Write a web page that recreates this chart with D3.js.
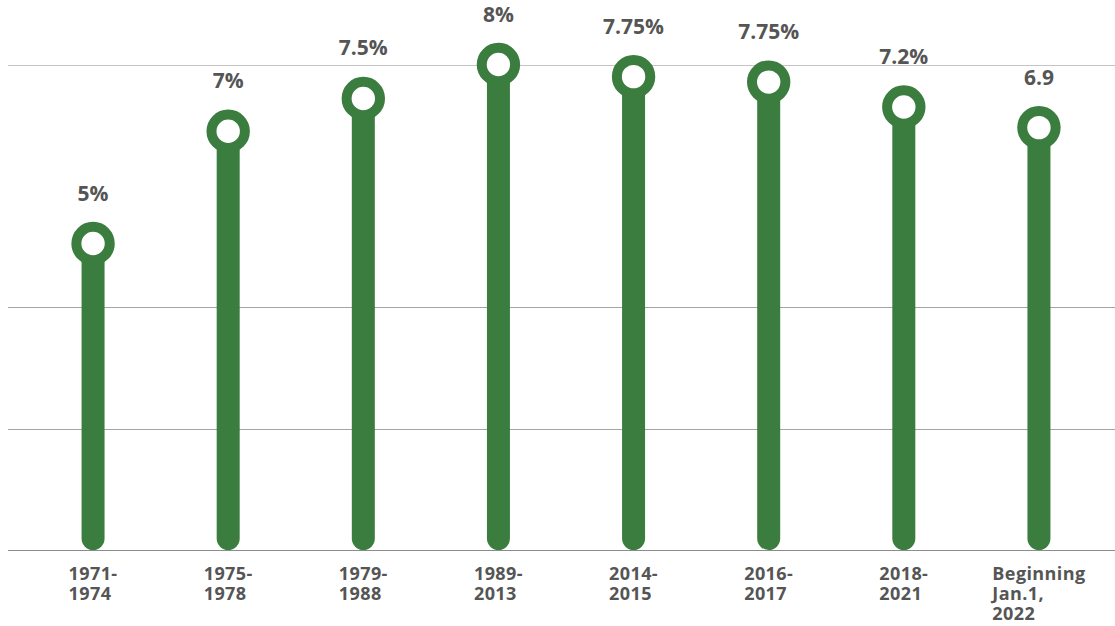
<!DOCTYPE html>
<html>
<head>
<meta charset="utf-8">
<script src="https://cdn.jsdelivr.net/npm/d3@7"></script>
<style>
  html, body { margin: 0; padding: 0; background: #fff; }
  svg { display: block; }
  text { font-family: "Open Sans", sans-serif; font-weight: 700; fill: #555; }
</style>
</head>
<body>
<svg id="chart" width="1115" height="626"></svg>
<script>
// Data
const categories = ["1971-\n1974", "1975-\n1978", "1979-\n1988", "1989-\n2013", "2014-\n2015", "2016-\n2017", "2018-\n2021", "Beginning\nJan.1,\n2022"];
const values = [5.05, 6.9, 7.44, 8, 7.8, 7.71, 7.3, 6.96];
const valueLabels = ["5%", "7%", "7.5%", "8%", "7.75%", "7.75%", "7.2%", "6.9"];
const gridTicks = [0, 2, 4, 8];

const W = 1115, H = 626;
const svg = d3.select("#chart");

const x = d3.scalePoint().domain(categories).range([25.5, 1106.5]).padding(0.5);
const y = d3.scaleLinear().domain([0, 8]).range([550, 64.5]);

const green = "#3a7d3f";

// gridlines
svg.append("g").selectAll("line").data(gridTicks).join("line")
  .attr("x1", 8).attr("x2", W)
  .attr("y1", d => Math.round(y(d)) + 0.5).attr("y2", d => Math.round(y(d)) + 0.5)
  .attr("stroke", d => d === 0 ? "#8c8c8c" : (d === 8 ? "#c4c4c4" : "#a4a4a4"))
  .attr("stroke-width", 1.2);

const stemW = 23;
const idx = d3.range(categories.length);

// stems
svg.append("g").selectAll("line").data(idx).join("line")
  .attr("x1", i => x(categories[i])).attr("x2", i => x(categories[i]))
  .attr("y1", i => y(values[i]))
  .attr("y2", y(0) - stemW / 2)
  .attr("stroke", green)
  .attr("stroke-width", stemW)
  .attr("stroke-linecap", "round");

// rings
svg.append("g").selectAll("circle").data(idx).join("circle")
  .attr("cx", i => x(categories[i]))
  .attr("cy", i => y(values[i]))
  .attr("r", 16.7)
  .attr("fill", "#fff")
  .attr("stroke", green)
  .attr("stroke-width", 10);

// value labels
svg.append("g").selectAll("text").data(idx).join("text")
  .attr("x", i => x(categories[i]))
  .attr("y", i => y(values[i]) - 43)
  .attr("text-anchor", "middle")
  .style("font-size", "21px")
  .text(i => valueLabels[i]);

// category labels (left aligned block centred under stem)
const xl = svg.append("g");
categories.forEach(c => {
  const lines = c.split("\n");
  const t = xl.append("text")
    .style("font-size", "18px")
    .style("letter-spacing", "0.4px");
  lines.forEach((ln, k) => {
    t.append("tspan").attr("x", 0).attr("y", 580 + k * 20).text(ln);
  });
  let maxW = 0;
  t.selectAll("tspan").each(function() {
    maxW = Math.max(maxW, this.getComputedTextLength());
  });
  const left = x(c) - maxW / 2;
  t.selectAll("tspan").attr("x", left);
});
</script>
</body>
</html>
